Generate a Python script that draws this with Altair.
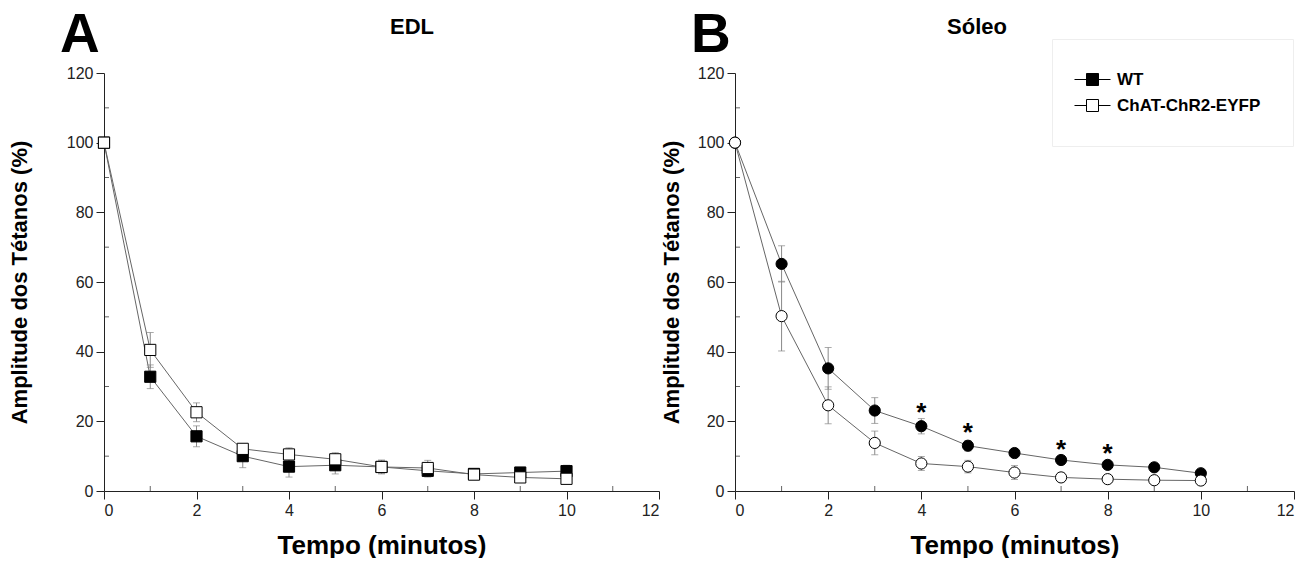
import altair as alt
import pandas as pd

# ---- data ----
minutes = list(range(11))
groups = ["WT", "ChAT-ChR2-EYFP"]

edl_wt = [100, 32.8, 15.7, 10.0, 7.0, 7.4, 6.9, 5.8, 4.9, 5.3, 5.7]
edl_wt_err = [0, 3.4, 3.0, 3.3, 3.0, 2.5, 2.0, 1.8, 1.0, 1.0, 1.7]
edl_ko = [100, 40.5, 22.6, 12.1, 10.5, 9.1, 6.9, 6.6, 4.7, 3.9, 3.5]
edl_ko_err = [0, 5.0, 2.7, 1.3, 1.9, 1.9, 1.8, 2.2, 1.0, 0.9, 0.9]

sol_wt = [100, 65.2, 35.2, 23.1, 18.6, 13.0, 10.9, 8.9, 7.5, 6.8, 5.1]
sol_wt_err = [0, 5.2, 6.0, 3.7, 2.2, 1.5, 1.2, 1.2, 1.0, 1.0, 0.7]
sol_ko = [100, 50.2, 24.6, 13.8, 7.9, 7.0, 5.3, 3.9, 3.4, 3.1, 3.0]
sol_ko_err = [0, 10.0, 5.3, 3.4, 2.0, 1.8, 2.0, 1.2, 0.8, 0.6, 0.6]

star_minutes = [4, 5, 7, 8]
star_values = [24.4, 18.7, 13.7, 12.7]

x_major = [0, 2, 4, 6, 8, 10, 12]
x_minor = [1, 3, 5, 7, 9, 11]
y_major = [0, 20, 40, 60, 80, 100, 120]
y_minor = [10, 30, 50, 70, 90, 110]

NARROW = "Liberation Sans Narrow, Liberation Sans, Arial"
SANS = "Liberation Sans, Arial"


def make_df(wt, wt_err, ko, ko_err):
    rows = []
    for g, vals, errs in ((groups[0], wt, wt_err), (groups[1], ko, ko_err)):
        for t, v, e in zip(minutes, vals, errs):
            rows.append({"t": t, "val": v, "err": e, "lo": v - e, "hi": v + e, "group": g})
    return pd.DataFrame(rows)


legend = alt.Legend(
    orient="none",
    legendX=948,
    legendY=-34,
    title=None,
    symbolType="M-3,0H-1M1,0H3M-1,-1H1V1H-1Z",
    symbolSize=144,
    symbolStrokeColor="black",
    symbolStrokeWidth=1,
    labelFont=SANS,
    labelFontSize=17,
    labelFontWeight="bold",
    labelColor="black",
    labelOffset=16,
    rowPadding=8,
    padding=32,
    strokeColor="#eeeeee",
    fillColor="white",
)


def panel(df, shape, title, title_x, letter, width, ytitle_pad, stars=None):
    x_enc = alt.X(
        "t:Q",
        scale=alt.Scale(domain=[0, 12], nice=False),
        axis=alt.Axis(
            values=x_major,
            title="Tempo (minutos)",
            titleFont=NARROW,
            titleFontSize=26,
            titleFontWeight="bold",
            titlePadding=14,
            titleColor="black",
        ),
    )
    y_enc = alt.Y(
        "val:Q",
        scale=alt.Scale(domain=[0, 120], nice=False),
        axis=alt.Axis(
            values=y_major,
            title="Amplitude dos Tétanos (%)",
            titleFont=SANS,
            titleFontSize=22,
            titleFontWeight="bold",
            titlePadding=ytitle_pad,
            titleColor="black",
        ),
    )
    base = alt.Chart(df)
    lines = base.mark_line(color="#666", strokeWidth=1).encode(x=x_enc, y=y_enc, detail="group:N")
    errdf = base.transform_filter("datum.err > 0")
    rules = errdf.mark_rule(color="#888", strokeWidth=1).encode(x="t:Q", y="lo:Q", y2="hi:Q")
    cap_lo = errdf.mark_tick(orient="horizontal", size=7, thickness=1, color="#888").encode(x="t:Q", y="lo:Q")
    cap_hi = errdf.mark_tick(orient="horizontal", size=7, thickness=1, color="#888").encode(x="t:Q", y="hi:Q")
    fill = alt.Fill(
        "group:N",
        scale=alt.Scale(domain=groups, range=["black", "white"]),
        legend=legend,
    )
    pts = base.mark_point(shape=shape, filled=True, size=125, stroke="black", strokeWidth=1, opacity=1).encode(
        x="t:Q", y="val:Q", fill=fill
    )
    # inward minor ticks
    mx = alt.Chart(pd.DataFrame({"m": x_minor})).mark_tick(
        orient="vertical", size=5, thickness=1, color="#222", yOffset=-2.5
    ).encode(x="m:Q", y=alt.datum(0))
    my = alt.Chart(pd.DataFrame({"m": y_minor})).mark_tick(
        orient="horizontal", size=5, thickness=1, color="#222", xOffset=2.5
    ).encode(y="m:Q", x=alt.datum(0))
    heads = alt.Chart(pd.DataFrame({"label": [letter], "title": [title]}))
    letter_mark = heads.mark_text(
        font=SANS, fontSize=55, fontWeight="bold", align="left", baseline="alphabetic", color="black"
    ).encode(text="label:N", x=alt.value(-44), y=alt.value(-21))
    title_mark = heads.mark_text(
        font=SANS, fontSize=22, fontWeight="bold", align="center", baseline="alphabetic", color="black"
    ).encode(text="title:N", x=alt.value(title_x), y=alt.value(-39))
    layers = [lines, mx, my, rules, cap_lo, cap_hi, pts, letter_mark, title_mark]
    if stars is not None:
        star_mark = alt.Chart(stars).mark_text(
            font=SANS, fontSize=26, fontWeight="bold", baseline="alphabetic", dy=15, color="black"
        ).encode(x="t:Q", y="val:Q", text="s:N")
        layers.append(star_mark)
    return alt.layer(*layers).properties(width=width, height=418)


edl = make_df(edl_wt, edl_wt_err, edl_ko, edl_ko_err)
sol = make_df(sol_wt, sol_wt_err, sol_ko, sol_ko_err)
stars = pd.DataFrame({"t": star_minutes, "val": star_values, "s": ["*"] * len(star_minutes)})

panel_a = panel(edl, "square", "EDL", 308, "A", 555, 35)
panel_b = panel(sol, "circle", "Sóleo", 242, "B", 559, 14, stars)

chart = (
    alt.hconcat(panel_a, panel_b, spacing=0)
    .properties(padding={"left": 0, "top": 0, "right": 0, "bottom": 0})
    .configure_view(stroke=None)
    .configure_axis(
        grid=False,
        domainColor="#222",
        tickColor="#222",
        labelColor="#222",
        labelFont=SANS,
        labelFontSize=16,
        tickSize=8,
        labelPadding=3,
    )
)

chart.save("out.html", embed_options={"renderer": "svg", "actions": False})
